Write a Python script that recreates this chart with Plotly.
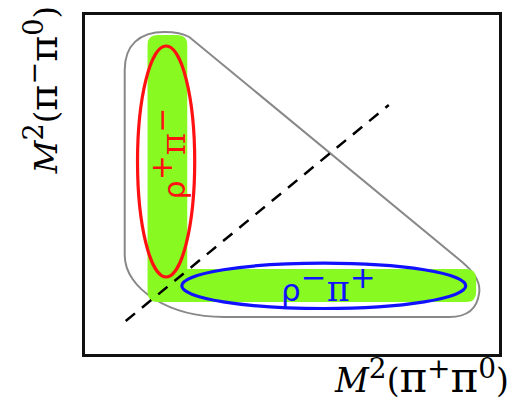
import plotly.graph_objects as go

# ---- schematic Dalitz plot, coordinates in frame units (0..417 x 0..339) ----
x_range = [0, 417]
y_range = [0, 339]

# kinematic boundary: start point, then segments ("L": point, "C": 3 points)
boundary_start = (40, 99)
boundary_segments = [
    ("L", [(40, 284)]),
    ("C", [(40, 309), (55, 322), (80, 322)]),
    ("C", [(90, 322), (98, 321), (105, 317)]),
    ("L", [(375, 96)]),
    ("C", [(389, 85), (399, 74), (397, 61)]),
    ("C", [(395, 45), (385, 37), (367, 37)]),
    ("L", [(140, 37)]),
    ("C", [(85, 37), (40, 65), (40, 99)]),
]

# resonance bands (L-shaped green region): vertices and corner radii
band_vertices = [(63, 319), (103, 319), (103, 85), (394, 85), (394, 52), (63, 52)]
band_radii = [10, 10, 0, 10, 10, 10]

# resonance ellipses: centre x, centre y, semi-axis x, semi-axis y
rho_plus_ellipse = [81.7, 192.5, 28.8, 115.5]
rho_minus_ellipse = [240.5, 68.2, 143.0, 22.7]

# symmetry diagonal
diag_x = [41, 306]
diag_y = [33, 249]


def sup(s, size):
    return f"<sup><span style='font-size:{size}px'>{s}</span></sup>"


def pi(size):
    return f"<span style='font-family:DejaVu Serif;font-size:{size}px'>π</span>"


# labels
rho_plus_label = "ρ" + sup("+", 30) + pi(34) + sup("−", 30)
rho_minus_label = "ρ" + sup("−", 31) + pi(35) + sup("+", 31)
x_label = "<i>M</i>" + sup("2", 28) + "(" + pi(42) + sup("+", 28) + pi(42) + sup("0", 28) + ")"
y_label = "<i>M</i>" + sup("2", 27) + "(" + pi(40) + sup("−", 27) + pi(40) + sup("0", 27) + ")"


def boundary_path(start, segs):
    p = f"M {start[0]},{start[1]}"
    for kind, pts in segs:
        p += f" {kind} " + " ".join(f"{x},{y}" for x, y in pts)
    return p + " Z"


def rounded_polygon(verts, radii):
    n = len(verts)
    parts = []
    for i in range(n):
        prev = verts[i - 1]
        cur = verts[i]
        nxt = verts[(i + 1) % n]
        r = radii[i]

        def toward(a, b, d):
            dx, dy = b[0] - a[0], b[1] - a[1]
            L = (dx * dx + dy * dy) ** 0.5
            return (a[0] + dx / L * d, a[1] + dy / L * d)

        if r > 0:
            p1 = toward(cur, prev, r)
            p2 = toward(cur, nxt, r)
            parts.append(("L" if parts else "M") + f" {p1[0]},{p1[1]}")
            parts.append(f"Q {cur[0]},{cur[1]} {p2[0]},{p2[1]}")
        else:
            parts.append(("L" if parts else "M") + f" {cur[0]},{cur[1]}")
    return " ".join(parts) + " Z"


def ellipse_shape(e, color):
    cx, cy, rx, ry = e
    return dict(type="circle", xref="x", yref="y", x0=cx - rx, x1=cx + rx,
                y0=cy - ry, y1=cy + ry, line=dict(color=color, width=3.2),
                fillcolor="rgba(0,0,0,0)", layer="above")


fig = go.Figure()

fig.add_trace(go.Scatter(x=diag_x, y=diag_y, mode="lines",
                         line=dict(color="black", width=2.5, dash="12px,9px"),
                         hoverinfo="skip", showlegend=False))

shapes = [
    dict(type="path", xref="x", yref="y", path=boundary_path(boundary_start, boundary_segments),
         line=dict(color="#888888", width=2), fillcolor="rgba(0,0,0,0)", layer="below"),
    dict(type="path", xref="x", yref="y", path=rounded_polygon(band_vertices, band_radii),
         line=dict(width=0), fillcolor="#88fa22", layer="below"),
    ellipse_shape(rho_plus_ellipse, "#ff1111"),
    ellipse_shape(rho_minus_ellipse, "#1111ff"),
]

annotations = [
    dict(x=84, y=201, xref="x", yref="y", text=rho_plus_label, textangle=-90, showarrow=False,
         font=dict(family="DejaVu Sans", size=30, color="#ff1111")),
    dict(x=245, y=70, xref="x", yref="y", text=rho_minus_label, showarrow=False,
         font=dict(family="DejaVu Sans", size=31, color="#1111ff")),
    dict(x=(512 - 85) / 417, y=(354 - 404) / 339, xref="paper", yref="paper",
         xanchor="right", yanchor="bottom", xshift=2, text=x_label, showarrow=False,
         font=dict(family="DejaVu Serif", size=33, color="black")),
    dict(x=(41 - 85) / 417, y=(354 - 90) / 339, xref="paper", yref="paper",
         xanchor="center", yanchor="middle", text=y_label, textangle=-90, showarrow=False,
         font=dict(family="DejaVu Serif", size=32, color="black")),
]

axis_common = dict(showgrid=False, zeroline=False, showticklabels=False, ticks="",
                   showline=True, mirror=True, linecolor="#111111", linewidth=3, fixedrange=True)

fig.update_layout(
    width=514, height=404,
    margin=dict(l=85, r=12, t=15, b=50),
    paper_bgcolor="white", plot_bgcolor="white",
    xaxis=dict(range=x_range, **axis_common),
    yaxis=dict(range=y_range, **axis_common),
    shapes=shapes, annotations=annotations, showlegend=False,
)

fig.write_html("out.html", config={"displayModeBar": False},
               post_script="document.body.style.margin='0';document.body.style.padding='0';")
